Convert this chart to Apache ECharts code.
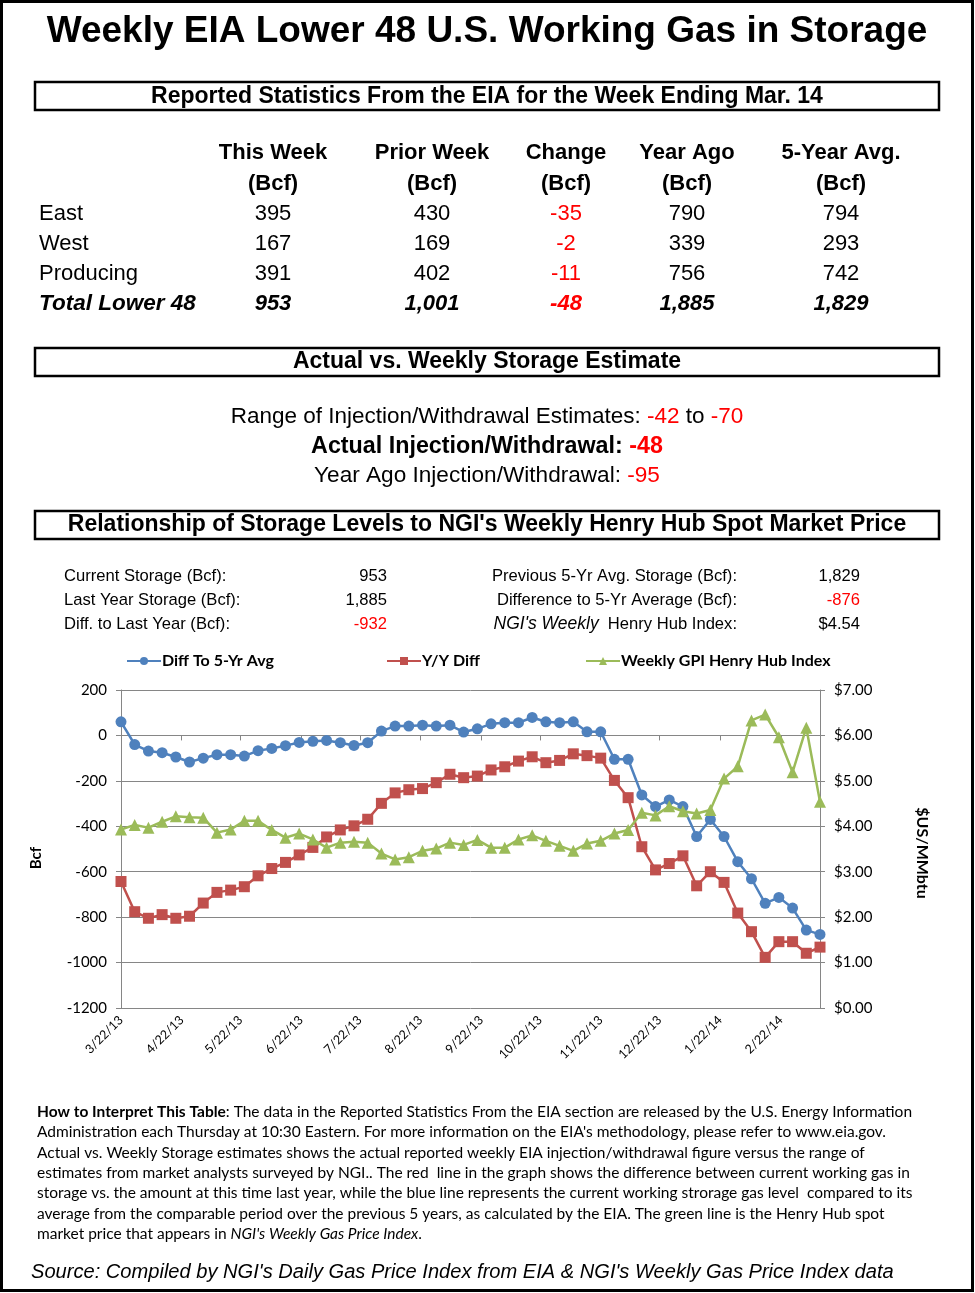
<!DOCTYPE html>
<html><head><meta charset="utf-8">
<script src="https://cdn.jsdelivr.net/npm/echarts@6/dist/echarts.min.js"></script>
<style>html,body{margin:0;padding:0;background:#fff}#c{width:975px;height:1293px}</style>
</head><body><div id="c"></div>
<script>
// ---------- DATA ----------
const weekDates = ['2013-03-22','2013-03-29','2013-04-05','2013-04-12','2013-04-19','2013-04-26','2013-05-03','2013-05-10','2013-05-17','2013-05-24','2013-05-31','2013-06-07','2013-06-14','2013-06-21','2013-06-28','2013-07-05','2013-07-12','2013-07-19','2013-07-26','2013-08-02','2013-08-09','2013-08-16','2013-08-23','2013-08-30','2013-09-06','2013-09-13','2013-09-20','2013-09-27','2013-10-04','2013-10-11','2013-10-18','2013-10-25','2013-11-01','2013-11-08','2013-11-15','2013-11-22','2013-11-29','2013-12-06','2013-12-13','2013-12-20','2013-12-27','2014-01-03','2014-01-10','2014-01-17','2014-01-24','2014-01-31','2014-02-07','2014-02-14','2014-02-21','2014-02-28','2014-03-07','2014-03-14'];
const diffTo5YrAvg = [60,-40,-69,-76,-95,-117,-100,-85,-85,-91,-67,-57,-45,-31,-26,-22,-32,-44,-32,19,41,41,45,41,45,15,29,51,56,56,79,60,56,60,16,16,-105,-105,-262,-313,-284,-313,-445,-370,-445,-556,-631,-739,-713,-760,-857,-876];
const yoyDiff = [-643,-776,-805,-789,-805,-796,-738,-691,-681,-666,-618,-586,-559,-526,-493,-447,-416,-398,-369,-299,-253,-239,-234,-208,-171,-186,-179,-152,-138,-113,-94,-120,-110,-81,-89,-100,-198,-274,-490,-592,-564,-530,-662,-600,-647,-782,-864,-977,-908,-908,-959,-932];
const henryHub = [3.93,4.03,3.97,4.10,4.22,4.20,4.19,3.86,3.93,4.12,4.12,3.92,3.75,3.84,3.71,3.53,3.64,3.66,3.64,3.40,3.27,3.32,3.46,3.51,3.64,3.59,3.70,3.53,3.53,3.71,3.80,3.68,3.57,3.46,3.62,3.68,3.84,3.92,4.30,4.24,4.44,4.33,4.28,4.36,5.05,5.32,6.33,6.46,5.96,5.19,6.17,4.54];
const xTickDates = ['2013-03-22','2013-04-22','2013-05-22','2013-06-22','2013-07-22','2013-08-22','2013-09-22','2013-10-22','2013-11-22','2013-12-22','2014-01-22','2014-02-22'];
const seriesNames = ['Diff To 5-Yr Avg','Y/Y Diff','Weekly GPI Henry Hub Index'];

const tableCols = ['This Week','Prior Week','Change','Year Ago','5-Year Avg.'];
const rowLabels = ['East','West','Producing','Total Lower 48'];
const thisWeek = ['395','167','391','953'];
const priorWeek = ['430','169','402','1,001'];
const change = ['-35','-2','-11','-48'];
const yearAgo = ['790','339','756','1,885'];
const fiveYearAvg = ['794','293','742','1,829'];

const estimateLow = '-42', estimateHigh = '-70', actualChange = '-48', yearAgoChange = '-95';

const statLeftLabels = ['Current Storage (Bcf):','Last Year Storage (Bcf):','Diff. to Last Year (Bcf):'];
const statLeftValues = ['953','1,885','-932'];
const statRightLabels = ['Previous 5-Yr Avg. Storage (Bcf):','Difference to 5-Yr Average (Bcf):','{i|NGI\'s Weekly}  Henry Hub Index:'];
const statRightValues = ['1,829','-876','$4.54'];

// ---------- HELPERS ----------
const ARIAL = '"Liberation Sans", Arial, sans-serif';
const CAL = 'Lato, "Open Sans", sans-serif';
function ts(s){const p=s.split('-').map(Number);return Date.UTC(p[0],p[1]-1,p[2]);}
function fmtDate(v){const d=new Date(v);return (d.getUTCMonth()+1)+'/'+d.getUTCDate()+'/'+String(d.getUTCFullYear()).slice(2);}
function isNeg(s){return s.trim().charAt(0)==='-';}
const G = [];
function T(x,y,text,o){o=o||{};G.push({type:'text',x:x,y:y,rotation:o.rot||0,z:10,style:Object.assign({text:text,fontFamily:o.ff||ARIAL,fontSize:o.fs||16,fontWeight:o.fw||'normal',fontStyle:o.fst||'normal',fill:o.fill||'#000',align:o.align||'left',verticalAlign:'middle'},o.rich?{rich:o.rich}:{})});}
function box(x,y,w,h){G.push({type:'rect',shape:{x:x,y:y,width:w,height:h},z:5,style:{fill:'none',stroke:'#000',lineWidth:2.5}});}

// outer frame
G.push({type:'rect',shape:{x:1.5,y:1.5,width:971,height:1289},z:5,style:{fill:'none',stroke:'#000',lineWidth:3}});
// title
T(487,32,'Weekly EIA Lower 48 U.S. Working Gas in Storage',{fs:37,fw:'bold',align:'center'});
box(35,82,904,28);
T(487,97,'Reported Statistics From the EIA for the Week Ending Mar. 14',{fs:23,fw:'bold',align:'center'});
// table
const colX=[273,432,566,687,841];
tableCols.forEach((c,i)=>{T(colX[i],153,c,{fs:22,fw:'bold',align:'center'});T(colX[i],184,'(Bcf)',{fs:22,fw:'bold',align:'center'});});
const cols=[thisWeek,priorWeek,change,yearAgo,fiveYearAvg];
rowLabels.forEach((r,ri)=>{
  const y=214+ri*30, tot=ri===3;
  T(39,y,r,{fs:tot?22.5:22,fw:tot?'bold':'normal',fst:tot?'italic':'normal'});
  cols.forEach((col,ci)=>{T(colX[ci],y,col[ri],{fs:22,align:'center',fw:tot?'bold':'normal',fst:tot?'italic':'normal',fill:isNeg(col[ri])?'#FF0000':'#000'});});
});
// estimate section
box(35,348,904,28);
T(487,362,'Actual vs. Weekly Storage Estimate',{fs:23,fw:'bold',align:'center'});
T(487,417,'Range of Injection/Withdrawal Estimates: {r|'+estimateLow+'}{a| to }{r|'+estimateHigh+'}',{fs:22.5,align:'center',rich:{r:{fill:'#FF0000',fontSize:22.5,fontFamily:ARIAL},a:{fill:'#000',fontSize:22.5,fontFamily:ARIAL}}});
T(487,447,'Actual Injection/Withdrawal: {r|'+actualChange+'}',{fs:23.3,fw:'bold',align:'center',rich:{r:{fill:'#FF0000',fontSize:23.3,fontWeight:'bold',fontFamily:ARIAL}}});
T(487,476,'Year Ago Injection/Withdrawal: {r|'+yearAgoChange+'}',{fs:22.6,align:'center',rich:{r:{fill:'#FF0000',fontSize:22.6,fontFamily:ARIAL}}});
// relationship section
box(35,511,904,28);
T(487,525,'Relationship of Storage Levels to NGI\'s Weekly Henry Hub Spot Market Price',{fs:23,fw:'bold',align:'center'});
statLeftLabels.forEach((l,i)=>{
  const y=576+i*24;
  T(64,y,l,{fs:16.6});
  T(387,y,statLeftValues[i],{fs:16.6,align:'right',fill:isNeg(statLeftValues[i])?'#FF0000':'#000'});
  T(737,y,statRightLabels[i],{fs:16.6,align:'right',rich:{i:{fontStyle:'italic',fontSize:17.5,fontFamily:ARIAL,fill:'#000'}}});
  T(860,y,statRightValues[i],{fs:16.6,align:'right',fill:isNeg(statRightValues[i])?'#FF0000':'#000'});
});
// axis names
T(36,858,'Bcf',{ff:CAL,fs:15,fw:'bold',align:'center',rot:Math.PI/2});
T(922,853,'$US/MMbtu',{ff:CAL,fs:16,fw:'bold',align:'center',rot:-Math.PI/2});
// footnote
const noteLines=[
 '{b|How to Interpret This Table}: The data in the Reported Statistics From the EIA section are released by the U.S. Energy Information',
 'Administration each Thursday at 10:30 Eastern. For more information on the EIA\'s methodology, please refer to www.eia.gov.',
 'Actual vs. Weekly Storage estimates shows the actual reported weekly EIA injection/withdrawal figure versus the range of',
 'estimates from market analysts surveyed by NGI.. The red  line in the graph shows the difference between current working gas in',
 'storage vs. the amount at this time last year, while the blue line represents the current working strorage gas level  compared to its',
 'average from the comparable period over the previous 5 years, as calculated by the EIA. The green line is the Henry Hub spot',
 'market price that appears in {i|NGI\'s Weekly Gas Price Index}.'];
noteLines.forEach((l,i)=>T(37,1112+i*20.3,l,{ff:CAL,fs:15.5,rich:{b:{fontWeight:'bold',fontFamily:CAL,fontSize:15.5,fill:'#000'},i:{fontStyle:'italic',fontFamily:CAL,fontSize:15.5,fill:'#000'}}}));
T(31,1272,'Source: Compiled by NGI\'s Daily Gas Price Index from EIA & NGI\'s Weekly Gas Price Index data',{fs:20.1,fst:'italic'});

// ---------- CHART ----------
const xMin=ts(weekDates[0]), xMax=ts(weekDates[weekDates.length-1]);
const tickTs=xTickDates.map(ts);
const gray='#868686';
const chart=echarts.init(document.getElementById('c'),null,{renderer:'canvas'});
const mk=(arr)=>weekDates.map((d,i)=>[ts(d),arr[i]]);
const colors=['#4F81BD','#C0504D','#9BBB59'];
const symbols=['circle','rect','triangle'];
const sizes=[11,11,12];
const legendX=[126,386,585];
chart.setOption({
  animation:false,
  backgroundColor:'#fff',
  grid:{left:121,right:155,top:690,height:318},
  legend:seriesNames.map((n,i)=>({data:[n],left:legendX[i],top:653,itemWidth:34,itemHeight:10,padding:0,textStyle:{fontFamily:CAL,fontSize:16,fontWeight:'bold',color:'#000',padding:[0,0,0,-4]}})),
  xAxis:[
    {type:'value',min:xMin,max:xMax,position:'bottom',axisLine:{show:false,onZero:false},axisTick:{show:false},splitLine:{show:false},
     axisLabel:{customValues:tickTs,formatter:fmtDate,rotate:45,fontFamily:CAL,fontSize:12.5,color:'#000',margin:10,hideOverlap:false}},
    {type:'value',min:xMin,max:xMax,position:'bottom',axisLine:{show:true,onZero:true,onZeroAxisIndex:0,lineStyle:{color:gray,width:1}},
     axisTick:{show:true,customValues:tickTs,length:5,lineStyle:{color:gray}},axisLabel:{show:false},splitLine:{show:false}}
  ],
  yAxis:[
    {type:'value',min:-1200,max:200,interval:200,position:'left',axisLine:{show:true,onZero:false,lineStyle:{color:gray}},axisTick:{show:true,length:5,lineStyle:{color:gray}},
     splitLine:{show:true,lineStyle:{color:gray,width:1}},axisLabel:{fontFamily:CAL,fontSize:15,color:'#000',margin:14,formatter:v=>String(v)}},
    {type:'value',min:0,max:7,interval:1,position:'right',axisLine:{show:true,onZero:false,lineStyle:{color:gray}},axisTick:{show:true,length:5,lineStyle:{color:gray}},
     splitLine:{show:false},axisLabel:{fontFamily:CAL,fontSize:15,color:'#000',margin:14,formatter:v=>'$'+v.toFixed(2)}}
  ],
  series:[diffTo5YrAvg,yoyDiff,henryHub].map((arr,i)=>({
    name:seriesNames[i],type:'line',xAxisIndex:0,yAxisIndex:i===2?1:0,data:mk(arr),
    symbol:symbols[i],symbolSize:sizes[i],showAllSymbol:true,
    lineStyle:{color:colors[i],width:2.5},itemStyle:{color:colors[i]},emphasis:{disabled:true},z:2+i
  })),
  graphic:G
});
</script></body></html>
